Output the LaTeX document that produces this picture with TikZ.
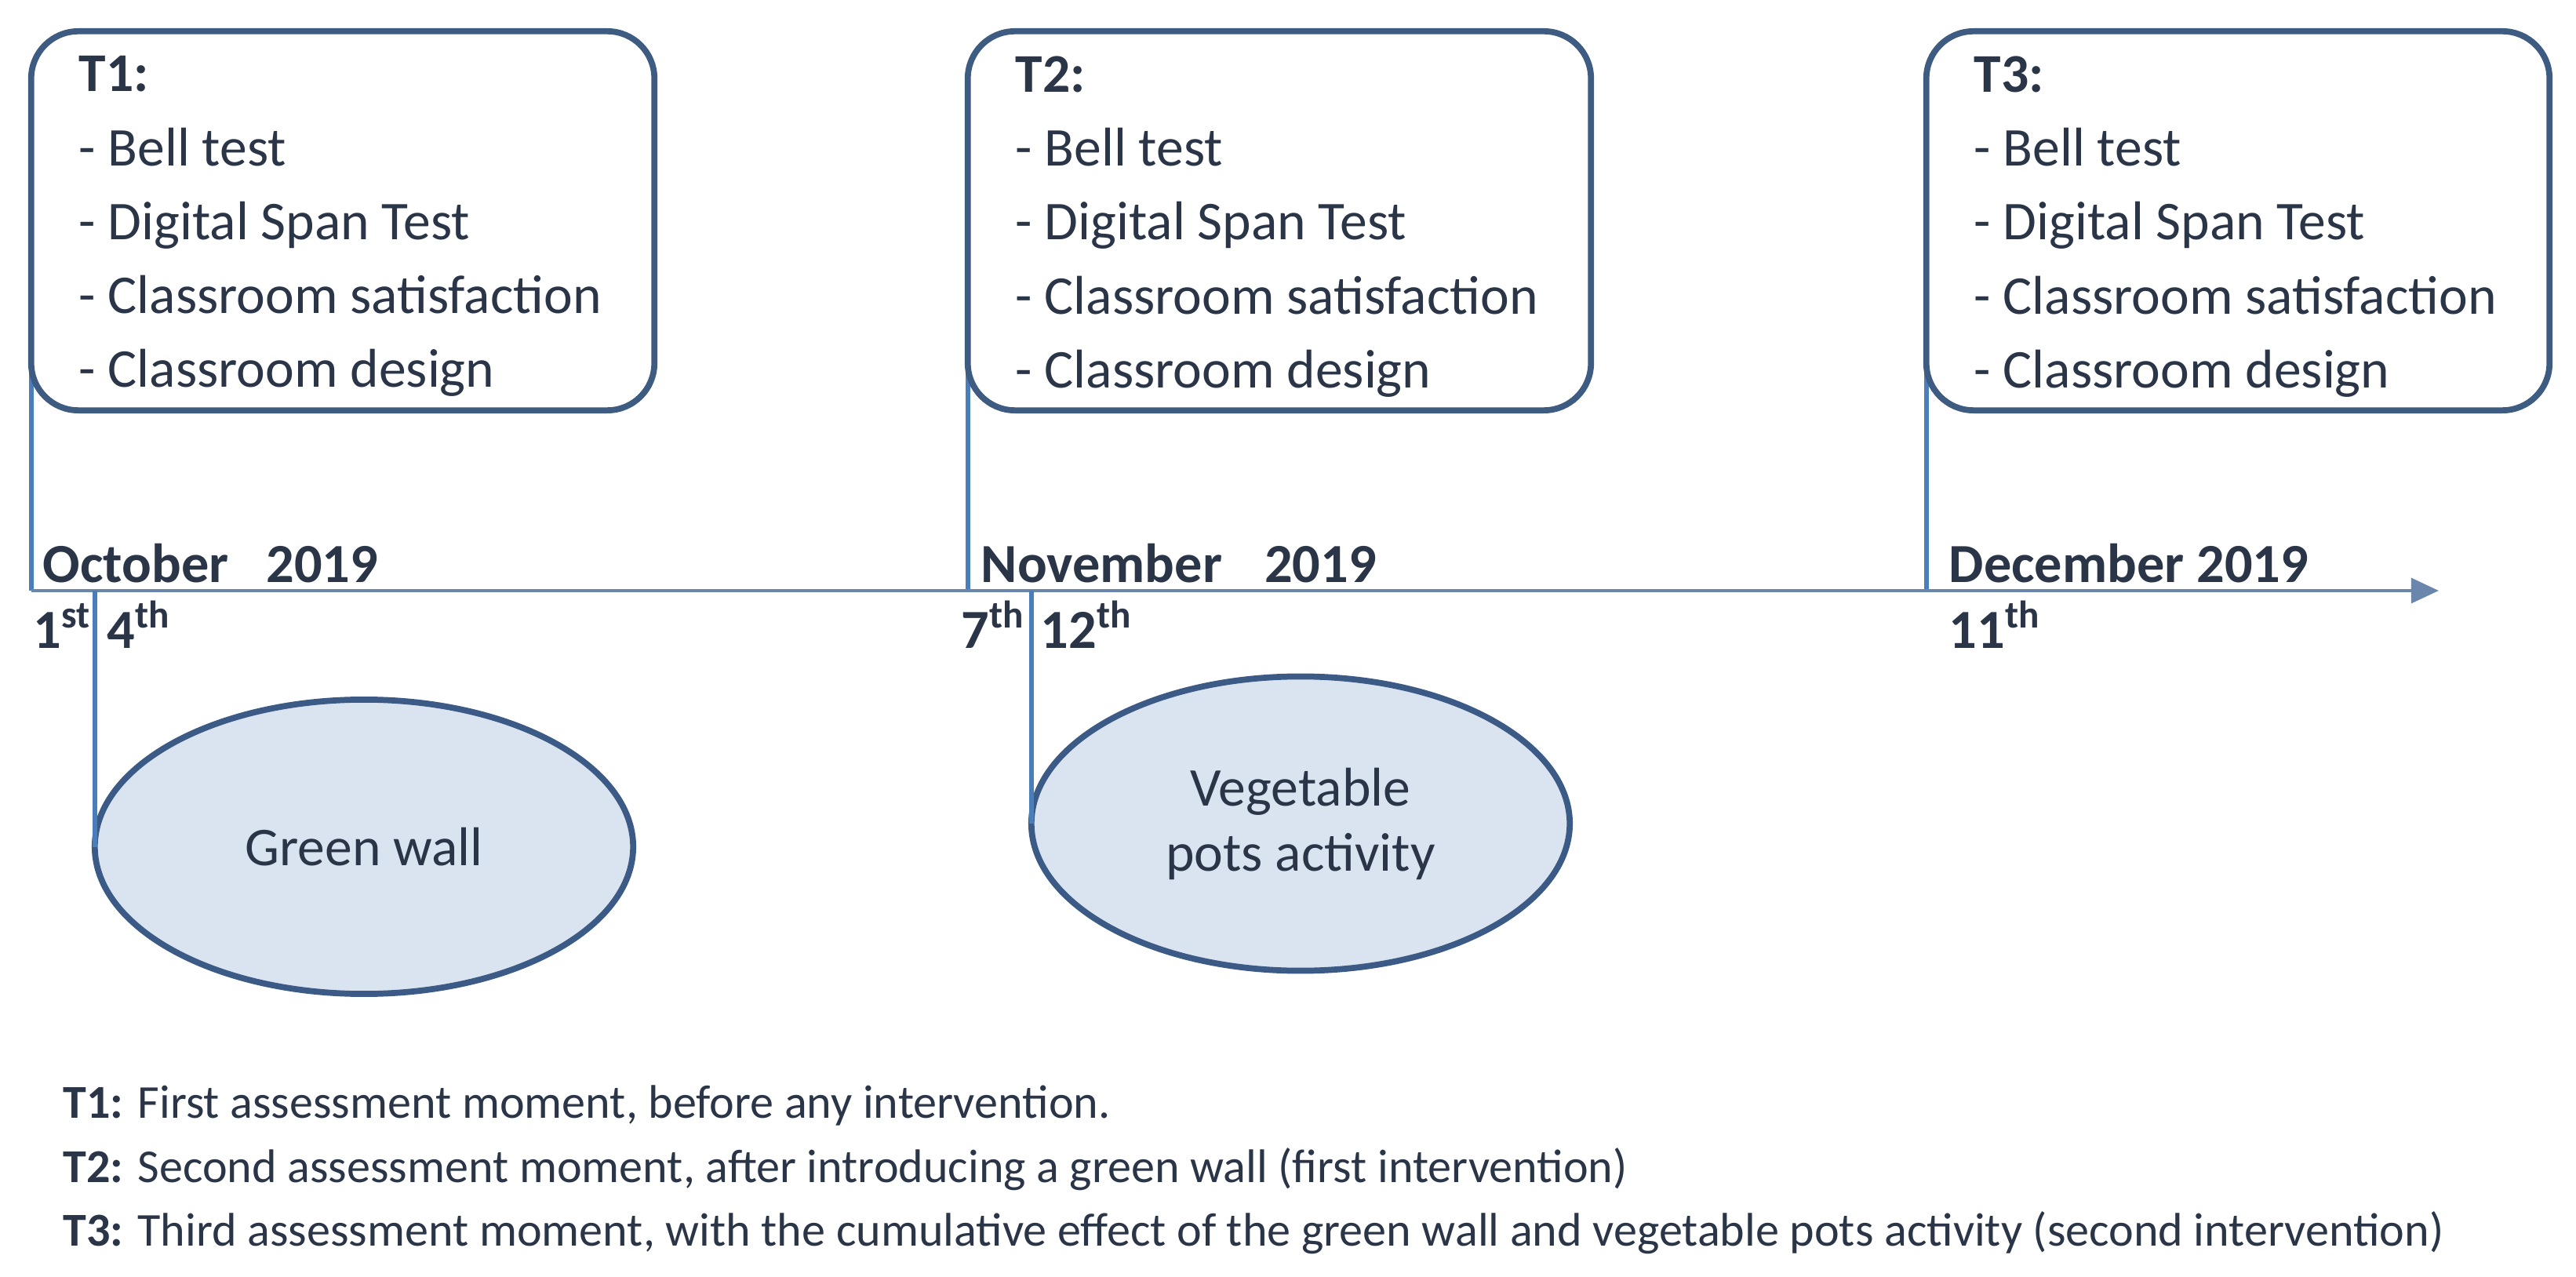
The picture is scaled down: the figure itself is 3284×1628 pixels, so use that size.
\documentclass[tikz,border=0pt]{standalone}
\usepackage{fontspec}
\setmainfont{Carlito}
\usetikzlibrary{shapes.geometric,arrows.meta}
\definecolor{txt}{HTML}{2B3548}
\definecolor{boxc}{HTML}{3E5B82}
\definecolor{linec}{HTML}{4A7EBB}
\definecolor{axisc}{HTML}{6A86AA}
\definecolor{ellc}{HTML}{3B5B86}
\definecolor{ellfill}{HTML}{DAE3F0}
\begin{document}
\begin{tikzpicture}[x=0.01cm,y=-0.01cm,
  every node/.style={text=txt},
  tbox/.style={draw=boxc, line width=2.2pt, rounded corners=0.6cm, minimum width=7.94cm, minimum height=4.83cm, inner sep=0pt, outer sep=0pt},
  tlist/.style={anchor=north west, inner sep=0pt, align=left, font=\fontsize{19.8}{26.8}\selectfont},
  datelbl/.style={anchor=base west, inner sep=0pt, font=\fontsize{20}{24}\selectfont\bfseries},
  act/.style={ellipse, draw=ellc, fill=ellfill, line width=2.2pt, minimum width=6.86cm, minimum height=3.75cm, inner sep=0pt, outer sep=0pt, align=center, font=\fontsize{19.8}{23.6}\selectfont},
  note/.style={anchor=base west, inner sep=0pt, font=\fontsize{17.1}{20}\selectfont},
  vline/.style={draw=linec, line width=1.8pt},
  axisline/.style={draw=axisc, line width=1.3pt, -{Triangle[length=10pt,width=9pt]}}
]
\useasboundingbox (0,0) rectangle (3284,1628);

% timeline
\coordinate (ax0) at (40,753);
\coordinate (axE) at (3109,753);
\coordinate (c4) at (121,753);
\coordinate (c12) at (1315,753);

% assessment boxes (anchors)
\path (437,281.5) coordinate (b1c);
\path (1631,281.5) coordinate (b2c);
\path (2853,281.5) coordinate (b3c);
\node[tbox, draw=none] (b1) at (b1c) {};
\node[tbox, draw=none] (b2) at (b2c) {};
\node[tbox, draw=none] (b3) at (b3c) {};

% connectors from boxes to the axis
\draw[vline] (b1.west) -- (b1.west |- ax0);
\draw[vline] (b2.west) -- (b2.west |- ax0);
\draw[vline] (b3.west) -- (b3.west |- ax0);

% box frames on top
\node[tbox, fill=white] (f1) at (b1c) {};
\node[tbox, fill=white] (f2) at (b2c) {};
\node[tbox, fill=white] (f3) at (b3c) {};

\node[tlist] (l1) at (100,71) {\textbf{T1:}\\- Bell test\\- Digital Span Test\\- Classroom satisfaction\\- Classroom design};
\node[tlist] (l2) at (1294,71) {\textbf{T2:}\\- Bell test\\- Digital Span Test\\- Classroom satisfaction\\- Classroom design};
\node[tlist] (l3) at (2516,71) {\textbf{T3:}\\- Bell test\\- Digital Span Test\\- Classroom satisfaction\\- Classroom design};

% axis
\draw[axisline] (ax0) -- (axE);

% month labels
\node[datelbl] (oct) at (54,743) {October\hspace{13.7pt}2019};
\node[datelbl] (nov) at (1250,743) {November\hspace{15.4pt}2019};
\node[datelbl] (dec) at (2484,743) {December 2019};

% day labels
\node[datelbl] (d1) at (42,827) {1\textsuperscript{st}};
\node[datelbl] (d4) at (136,827) {4\textsuperscript{th}};
\node[datelbl] (d7) at (1225,827) {7\textsuperscript{th}};
\node[datelbl] (d12) at (1326,827) {12\textsuperscript{th}};
\node[datelbl] (d11) at (2484,827) {11\textsuperscript{th}};

% interventions
\node[act] (gw) at (464,1079.5) {Green wall};
\node[act] (vp) at (1658,1050) {Vegetable\\pots activity};
\draw[vline] (c4) -- (c4 |- gw.west);
\draw[vline] (c12) -- (c12 |- vp.west);

% notes
\node[note] (n1) at (80,1425) {\textbf{T1:} First assessment moment, before any intervention.};
\node[note] (n2) at (80,1507) {\textbf{T2:} Second assessment moment, after introducing a green wall (first intervention)};
\node[note] (n3) at (80,1588) {\textbf{T3:} Third assessment moment, with the cumulative effect of the green wall and vegetable pots activity (second intervention)};
\end{tikzpicture}
\end{document}
